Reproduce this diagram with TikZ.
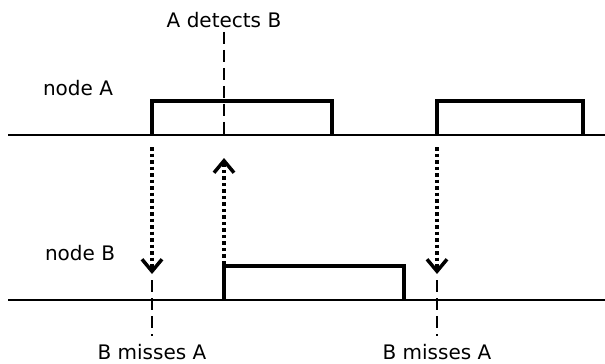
\documentclass[tikz,border=0pt]{standalone}
\usepackage{fontspec}
\setmainfont{DejaVu Sans}
\usetikzlibrary{arrows.meta}
\begin{document}
\begin{tikzpicture}[x=1pt,y=-1pt,
  base/.style={line width=1.6pt},
  pulse/.style={line width=4.5pt, line join=miter},
  dashline/.style={line width=2.6pt, dash pattern=on 12pt off 6pt},
  dotarrow/.style={line width=3.6pt, dash pattern=on 3.5pt off 3pt,
     -{Straight Barb[length=12pt,width=20pt,line width=3.5pt]}},
  lbl/.style={font=\fontsize{20}{23}\selectfont, inner sep=0pt}]
\useasboundingbox (0,0) rectangle (605,364);
% node A line
\coordinate (a0) at (8,135);
\coordinate (a1) at (605,135);
\draw[base] (a0) -- (a1);
\coordinate (p1s) at (152,135);
\coordinate (p1e) at (332,135);
\coordinate (p2s) at (437,135);
\coordinate (p2e) at (583,135);
\draw[pulse] (p1s) |- (332,101) -- (p1e);
\draw[pulse] (p2s) |- (583,101) -- (p2e);
% node B line
\coordinate (b0) at (8,300);
\coordinate (b1) at (605,300);
\draw[base] (b0) -- (b1);
\coordinate (q1s) at (224,300);
\coordinate (q1e) at (404,300);
\draw[pulse] (q1s) |- (404,266) -- (q1e);
% labels
\node[lbl] (na) at (78,88) {node A};
\node[lbl] (nb) at (80,253) {node B};
\node[lbl] (det) at (224,20) {A detects B};
\node[lbl] (m1) at (152,352) {B misses A};
\node[lbl] (m2) at (437,352) {B misses A};
% detects dashed line
\coordinate (d1) at (224,135);
\draw[dashline] (det.south) ++(0,4) coordinate (dtop) (dtop) -- (d1);
% dotted arrows
\coordinate (s1) at (152,147);
\coordinate (t1) at (152,274);
\draw[dotarrow] (s1) -- (t1);
\coordinate (s2) at (224,264);
\coordinate (t2) at (224,158);
\draw[dotarrow] (s2) -- (t2);
\coordinate (s3) at (437,147);
\coordinate (t3) at (437,274);
\draw[dotarrow] (s3) -- (t3);
% misses dashed lines
\coordinate (e1) at (152,336);
\coordinate (e2) at (437,336);
\draw[dashline] (t1) ++(0,6) -- (e1);
\draw[dashline] (t3) ++(0,6) -- (e2);
\end{tikzpicture}
\end{document}
